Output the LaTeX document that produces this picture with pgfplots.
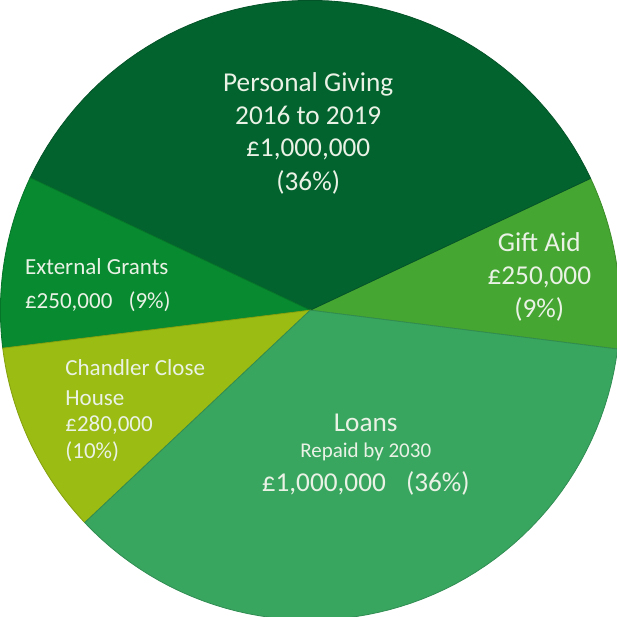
\documentclass[border=0pt]{standalone}
\usepackage{pgfplots}
\pgfplotsset{compat=1.18}
\usepackage{fontspec}
\setmainfont{Carlito}

\definecolor{cGift}{HTML}{46A632}
\definecolor{cPers}{HTML}{03632F}
\definecolor{cExt}{HTML}{078A30}
\definecolor{cChan}{HTML}{9BBC12}
\definecolor{cLoan}{HTML}{39A660}
\definecolor{txt}{HTML}{EAF2E6}

\begin{document}
\begin{tikzpicture}
% values in thousands of pounds, counterclockwise from Gift Aid
\def\vGift{250}
\def\vPers{1000}
\def\vExt{250}
\def\vChan{280}
\def\vLoan{1000}
\pgfmathsetmacro{\tot}{\vGift+\vPers+\vExt+\vChan+\vLoan}
\pgfmathsetmacro{\aA}{-7.2}
\pgfmathsetmacro{\aB}{\aA+\vGift/\tot*360}
\pgfmathsetmacro{\aC}{\aB+\vPers/\tot*360}
\pgfmathsetmacro{\aD}{\aC+\vExt/\tot*360}
\pgfmathsetmacro{\aE}{\aD+\vChan/\tot*360}
\pgfmathsetmacro{\aF}{\aE+\vLoan/\tot*360}
\begin{axis}[
    width=307pt, height=308.5pt,
    scale only axis,
    xmin=0, xmax=614, ymin=0, ymax=617,
    hide axis,
    samples=60,
    every axis plot/.append style={line width=0.4pt},
]
\addplot[fill=cGift, draw=cGift!85!black, domain=\aA:\aB, variable=\t]
    ({310+307*cos(t)},{304+307*sin(t)}) -- (310,304) -- cycle;
\addplot[fill=cPers, draw=cPers!85!black, domain=\aB:\aC, variable=\t]
    ({310+307*cos(t)},{304+307*sin(t)}) -- (310,304) -- cycle;
\addplot[fill=cExt, draw=cExt!85!black, domain=\aC:\aD, variable=\t]
    ({310+307*cos(t)},{304+307*sin(t)}) -- (310,304) -- cycle;
\addplot[fill=cChan, draw=cChan!85!black, domain=\aD:\aE, variable=\t]
    ({310+307*cos(t)},{304+307*sin(t)}) -- (310,304) -- cycle;
\addplot[fill=cLoan, draw=cLoan!85!black, domain=\aE:\aF, variable=\t]
    ({310+307*cos(t)},{304+307*sin(t)}) -- (310,304) -- cycle;

% labels
\begin{scope}[every node/.style={text=txt, anchor=base, inner sep=0pt, font=\fontsize{13.5}{16}\selectfont}]
\node at (308,521) {Personal Giving};
\node at (308,488) {2016 to 2019};
\node at (308,456) {£1,000,000};
\node at (308,423) {(36\%)};

\node at (537,362) {Gift Aid};
\node at (537,329) {£250,000};
\node at (537,297) {(9\%)};

\node at (365,184) {Loans};
\node[font=\fontsize{10.4}{12}\selectfont] at (365,158) {Repaid by 2030};
\node at (365,124) {£1,000,000\hspace{10pt}(36\%)};
\end{scope}

\begin{scope}[every node/.style={text=txt, anchor=base west, inner sep=0pt, font=\fontsize{11.4}{14}\selectfont}]
\node at (27,339) {External Grants};
\node at (27,306) {£250,000\hspace{8pt}(9\%)};

\node at (67,239) {Chandler Close};
\node at (67,210) {House};
\node at (67,184) {£280,000};
\node at (67,157) {(10\%)};
\end{scope}
\end{axis}
\end{tikzpicture}
\end{document}
